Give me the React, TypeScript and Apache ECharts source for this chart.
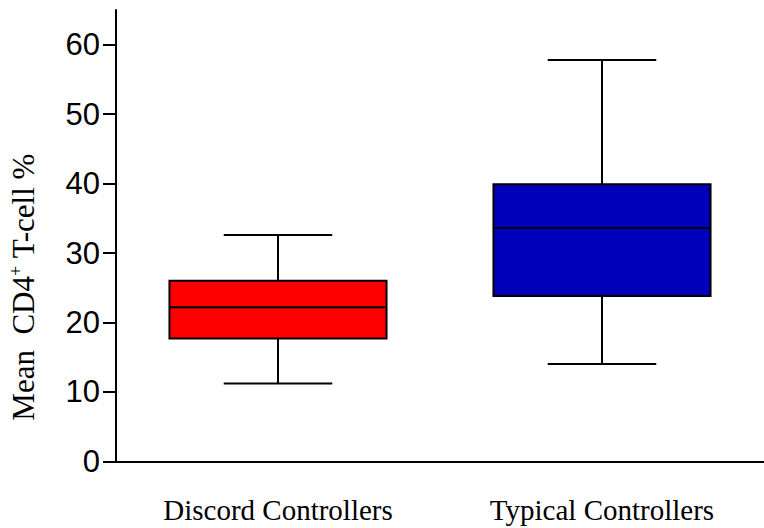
import React, { useEffect, useRef } from "react";
import * as echarts from "echarts";

// Groups on the x axis
const categories = ["Discord Controllers", "Typical Controllers"];
// Five-number summaries: [min, Q1, median, Q3, max]
const discordStats = [11.2, 17.7, 22.2, 26.0, 32.6];
const typicalStats = [14.0, 23.8, 33.6, 39.9, 57.8];
const boxColors = ["#ff0000", "#0000bb"];
// Tick values on the y axis
const yTicks = [0, 10, 20, 30, 40, 50, 60];

export default function App() {
  const ref = useRef<HTMLDivElement>(null);

  useEffect(() => {
    if (!ref.current) return;
    const chart = echarts.init(ref.current, null, { renderer: "svg" });

    const stats = [discordStats, typicalStats];
    const data = stats.map((s, i) => [i, ...s]);

    const renderItem = (params: any, api: any) => {
      const idx = api.value(0);
      const low = api.coord([idx, api.value(1)]);
      const q1 = api.coord([idx, api.value(2)]);
      const med = api.coord([idx, api.value(3)]);
      const q3 = api.coord([idx, api.value(4)]);
      const high = api.coord([idx, api.value(5)]);
      const band = api.size([1, 0])[0];
      const boxW = band * 0.67;
      const capW = boxW / 2;
      const cx = low[0];
      const lineStyle = { stroke: "#000", lineWidth: 2, fill: null };
      return {
        type: "group",
        children: [
          {
            type: "line",
            shape: { x1: cx, y1: high[1], x2: cx, y2: q3[1] },
            style: lineStyle,
          },
          {
            type: "line",
            shape: { x1: cx, y1: q1[1], x2: cx, y2: low[1] },
            style: lineStyle,
          },
          {
            type: "line",
            shape: { x1: cx - capW / 2, y1: high[1], x2: cx + capW / 2, y2: high[1] },
            style: lineStyle,
          },
          {
            type: "line",
            shape: { x1: cx - capW / 2, y1: low[1], x2: cx + capW / 2, y2: low[1] },
            style: lineStyle,
          },
          {
            type: "rect",
            shape: { x: cx - boxW / 2, y: q3[1], width: boxW, height: q1[1] - q3[1] },
            style: { fill: boxColors[idx], stroke: "#000", lineWidth: 2 },
          },
          {
            type: "line",
            shape: { x1: cx - boxW / 2, y1: med[1], x2: cx + boxW / 2, y2: med[1] },
            style: lineStyle,
          },
        ],
      };
    };

    chart.setOption({
      animation: false,
      grid: { left: 116, top: 10, width: 654, height: 451.3 },
      xAxis: {
        type: "category",
        data: categories,
        axisLine: { lineStyle: { color: "#000", width: 2 } },
        axisTick: { alignWithLabel: true, length: 13, lineStyle: { color: "#000", width: 2 } },
        axisLabel: {
          margin: 34,
          color: "#000",
          fontFamily: "Liberation Serif",
          fontSize: 29,
        },
      },
      yAxis: {
        type: "value",
        min: 0,
        max: 65,
        interval: 10,
        splitLine: { show: false },
        axisLine: { show: true, lineStyle: { color: "#000", width: 2 } },
        axisTick: {
          show: true,
          length: 13,
          customValues: yTicks,
          lineStyle: { color: "#000", width: 2 },
        },
        axisLabel: {
          customValues: yTicks,
          margin: 16,
          color: "#000",
          fontFamily: "Liberation Sans",
          fontSize: 31,
        },
      },
      graphic: [
        {
          type: "text",
          x: 23,
          y: 287,
          rotation: Math.PI / 2,
          style: {
            text: "{n|Mean  CD4}{s|+}{n| T-cell %}",
            align: "center",
            verticalAlign: "middle",
            fill: "#000",
            rich: {
              n: { fontFamily: "Liberation Serif", fontSize: 31, lineHeight: 32, fill: "#000" },
              s: {
                fontFamily: "Liberation Serif",
                fontSize: 18,
                verticalAlign: "top",
                lineHeight: 18,
                fill: "#000",
              },
            },
          },
        },
      ],
      series: [
        {
          type: "custom",
          renderItem,
          data,
          encode: { x: 0, y: [1, 2, 3, 4, 5] },
        },
      ],
    });

    return () => chart.dispose();
  }, []);

  return <div ref={ref} style={{ width: 764, height: 528, position: "absolute", left: 0, top: 0 }} />;
}
